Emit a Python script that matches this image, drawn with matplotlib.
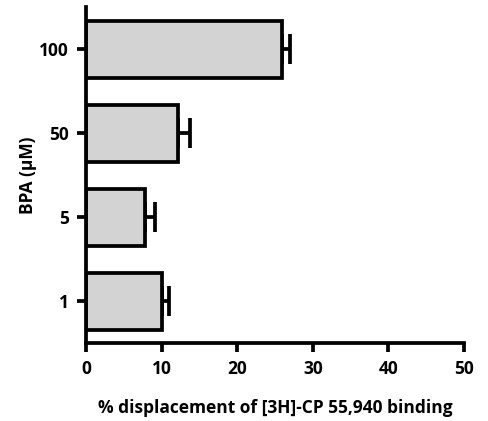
import matplotlib.pyplot as plt

plt.rcParams['font.family'] = ['Open Sans', 'DejaVu Sans']
plt.rcParams['font.weight'] = 'bold'

# data
doses = ['1', '5', '50', '100']
displacement = [10.0, 7.8, 12.2, 25.9]
sem = [1.0, 1.3, 1.6, 1.1]

fig = plt.figure(figsize=(4.88, 4.21), dpi=100)
ax = fig.add_axes([0.176, 0.185, 0.775, 0.798])

pos = range(len(doses))
ax.barh(pos, displacement, height=0.68, color='#d3d3d3', edgecolor='black',
        linewidth=2.7, zorder=2)
ax.errorbar(displacement, pos, xerr=[[0] * len(sem), sem], fmt='none',
            ecolor='black', elinewidth=2.7, capsize=10.5, capthick=2.7, zorder=1)

ax.set_xlim(0, 50)
ax.set_ylim(-0.5, 3.5)
ax.set_xticks([0, 10, 20, 30, 40, 50])
ax.set_yticks(list(pos))
ax.set_yticklabels(doses)

for s in ['top', 'right']:
    ax.spines[s].set_visible(False)
for s in ['left', 'bottom']:
    ax.spines[s].set_linewidth(2.7)
ax.tick_params(width=2.7, length=6.5, labelsize=12.5, pad=6)
ax.set_xlabel('% displacement of [3H]-CP 55,940 binding', fontsize=12.5,
              fontweight='bold', labelpad=15)
ax.set_ylabel('BPA (\u03bcM)', fontsize=12.5, fontweight='bold', labelpad=1)

plt.savefig('out.png', dpi=100)
